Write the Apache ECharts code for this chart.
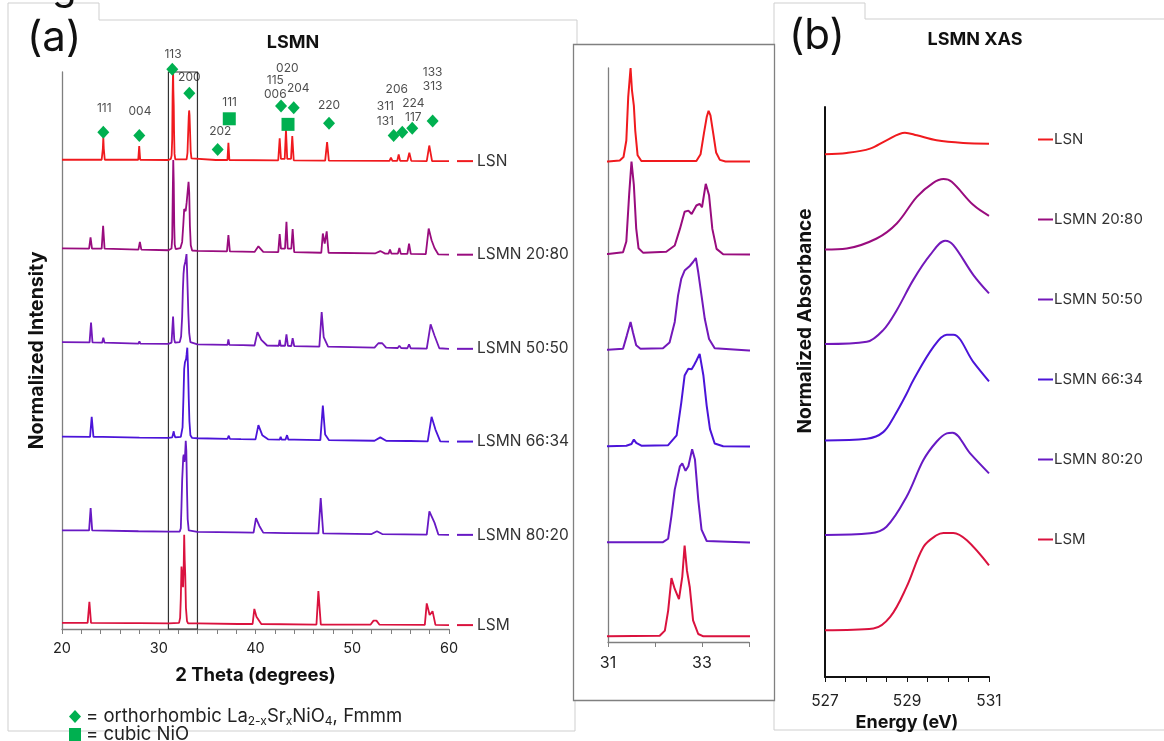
<!DOCTYPE html>
<html>
<head>
<meta charset="utf-8">
<script src="https://cdn.jsdelivr.net/npm/echarts@6/dist/echarts.min.js"></script>
<style>
html,body{margin:0;padding:0;background:#fff;}
#chart{width:1164px;height:741px;}
</style>
</head>
<body>
<div id="chart"></div>
<script>
// ---------- DATA ----------
const sampleNames = ['LSN', 'LSMN 20:80', 'LSMN 50:50', 'LSMN 66:34', 'LSMN 80:20', 'LSM'];
const sampleColors = ['#f01a1e', '#990c7e', '#7318ba', '#4b14d9', '#6719c4', '#da123e'];

// XRD vertical stacking offsets (normalized intensity units)
const xrdOffsets = [84.2, 68.0, 51.2, 34.3, 17.5, 1.0];
// XAS vertical stacking offsets
const xasOffsets = [91.7, 75.0, 58.4, 41.5, 24.9, 8.2];

// XRD patterns: [2theta, normalized intensity]
const xrdLSN = [
  [20,0.05],[24.1,0.05],[24.22,2.0],[24.27,4.1],[24.32,2.0],[24.42,0.05],
  [27.88,0.05],[27.98,2.5],[28.08,0.05],
  [31.0,0],[31.25,0.2],[31.33,0.8],[31.39,3.7],[31.43,11.3],[31.48,16.4],[31.51,12.5],[31.55,9.8],[31.58,5.4],[31.63,1.1],[31.71,0.1],
  [32.88,0.1],[32.97,1.3],[33.04,4.9],[33.10,7.8],[33.14,8.9],[33.18,8.1],[33.24,4.9],[33.30,1.6],[33.38,0.3],[33.5,0],
  [35.9,0],[36.0,0.3],[36.1,0],
  [37.1,0],[37.2,3.1],[37.3,0],
  [42.35,-0.05],[42.5,3.9],[42.63,0.2],[43.02,0.2],[43.15,5.4],[43.28,0.2],[43.67,0.2],[43.8,4.3],[43.95,-0.05],
  [47.2,-0.1],[47.4,3.2],[47.58,-0.1],
  [53.85,-0.15],[54.0,0.45],[54.15,-0.15],[54.65,-0.15],[54.8,1.0],[54.95,-0.15],[55.7,-0.15],[55.9,1.3],[56.1,-0.15],
  [57.7,-0.2],[57.96,2.6],[58.25,-0.2],[60,-0.2]
];
const xrd2080 = [
  [20,0.35],[22.8,0.3],[22.95,2.3],[23.1,0.3],[24.1,0.28],[24.25,4.4],[24.4,0.28],[27.9,0.1],[28.05,1.5],[28.2,0.1],
  [31.0,0],[31.32,0.3],[31.39,2.2],[31.45,10.4],[31.50,16.2],[31.55,12.1],[31.60,4.5],[31.65,1.0],[31.75,0.2],[32.24,0.4],[32.42,1.5],[32.53,4.4],[32.63,7.4],[32.71,7.6],[32.78,7.0],[32.88,8.5],[32.95,8.8],[33.0,8.2],[33.08,12.3],[33.15,10.3],[33.22,4.4],[33.31,0.9],[33.45,-0.05],[34.0,-0.1],
  [37.05,-0.2],[37.2,2.7],[37.35,-0.2],[39.9,-0.3],[40.3,0.7],[40.8,-0.3],
  [42.35,-0.35],[42.5,2.9],[42.63,0.3],[43.05,0.3],[43.2,5.1],[43.33,0.3],[43.7,0.3],[43.84,3.8],[44.0,-0.35],
  [46.8,-0.45],[46.96,3.0],[47.15,1.2],[47.36,3.4],[47.55,-0.45],
  [52.4,-0.55],[52.9,-0.15],[53.4,-0.6],[53.75,-0.6],[53.9,0.1],[54.05,-0.6],[54.72,-0.6],[54.87,0.4],[55.02,-0.65],[55.7,-0.65],[55.87,1.2],[56.05,-0.65],
  [57.6,-0.7],[57.9,3.9],[58.2,1.8],[58.5,0.4],[58.9,-0.75],[60,-0.8]
];
const xrd5050 = [
  [20,0.3],[22.85,0.25],[23.0,3.8],[23.15,0.25],[24.15,0.2],[24.27,1.1],[24.4,0.2],[27.9,0.05],[28.0,0.45],[28.1,0.05],
  [31.0,0],[31.32,0.2],[31.40,2.5],[31.48,4.9],[31.53,3.1],[31.60,0.8],[31.69,0.2],[32.17,0.3],[32.31,1.3],[32.42,4.9],[32.49,9.5],[32.56,12.5],[32.63,13.9],[32.74,14.7],[32.81,15.4],[32.87,16.1],[32.92,13.6],[32.99,9.5],[33.06,5.4],[33.15,1.9],[33.27,0.3],[34.0,-0.1],
  [37.1,-0.2],[37.2,0.8],[37.3,-0.2],[38.45,-0.25],[38.57,0.1],[38.7,-0.25],[39.9,-0.3],[40.2,2.1],[40.6,0.7],[41.2,-0.3],
  [42.4,-0.35],[42.5,0.7],[42.6,-0.35],[43.05,-0.35],[43.2,1.7],[43.35,-0.35],[43.7,-0.4],[43.84,1.0],[44.0,-0.4],
  [46.6,-0.5],[46.84,5.7],[47.05,1.2],[47.25,0.9],[47.5,-0.5],
  [52.3,-0.7],[52.7,0.1],[53.1,0.1],[53.5,-0.7],[54.7,-0.75],[54.87,-0.35],[55.05,-0.75],[55.7,-0.8],[55.87,-0.1],[56.05,-0.8],
  [57.7,-0.85],[58.1,3.5],[58.5,1.5],[59.0,-0.8],[60,-0.9]
];
const xrd6634 = [
  [20,0.25],[22.9,0.2],[23.07,3.8],[23.25,0.2],[24.2,0.2],[24.3,0.4],[24.4,0.2],[28.0,0.05],[28.1,0.3],[28.2,0.05],
  [31.0,0],[31.39,0.1],[31.50,0.4],[31.55,1.2],[31.60,0.6],[31.71,0.1],[32.28,0.2],[32.46,1.9],[32.56,7.7],[32.63,12.4],[32.71,13.6],[32.78,13.5],[32.83,14.2],[32.88,15.0],[32.95,16.2],[33.03,12.4],[33.10,7.1],[33.17,3.0],[33.27,0.5],[33.45,0],[34.0,-0.05],
  [37.1,-0.15],[37.24,0.4],[37.35,-0.15],[38.5,-0.2],[38.6,0.1],[38.7,-0.2],[40.0,-0.25],[40.3,2.3],[40.7,0.5],[41.3,-0.25],
  [42.5,-0.3],[42.6,0.2],[42.7,-0.3],[43.1,-0.3],[43.26,0.5],[43.4,-0.3],[43.7,-0.3],[43.84,0],[44.0,-0.3],
  [46.7,-0.4],[46.96,5.8],[47.2,0.6],[47.6,-0.4],
  [52.3,-0.5],[52.9,0.1],[53.5,-0.5],[55.75,-0.55],[55.87,-0.25],[56.0,-0.55],
  [57.8,-0.6],[58.2,3.8],[58.6,1.5],[59.1,-0.6],[60,-0.65]
];
const xrd8020 = [
  [20,0.2],[22.8,0.2],[22.96,4.2],[23.12,0.2],[27.9,0.05],[28.0,0.25],[28.1,0.05],
  [31.0,0],[32.17,0],[32.28,0.6],[32.35,4.6],[32.42,9.2],[32.53,13.3],[32.58,13.8],[32.65,12.5],[32.71,13.3],[32.79,16.3],[32.85,14.5],[32.92,7.5],[32.99,2.2],[33.10,0.2],[34.0,-0.05],
  [38.2,-0.15],[38.3,0.1],[38.4,-0.15],[39.8,-0.2],[40.05,2.4],[40.4,1.0],[40.8,-0.2],
  [43.15,-0.3],[43.26,0],[43.4,-0.3],
  [46.5,-0.35],[46.74,6.0],[47.0,-0.35],
  [52.0,-0.45],[52.55,0.05],[53.1,-0.45],
  [57.7,-0.55],[57.97,3.6],[58.5,1.6],[58.9,-0.55],[60,-0.6]
];
const xrdLSM = [
  [20,0.1],[22.65,0.1],[22.83,3.9],[23.0,0.1],[27.0,0.05],[27.2,0.35],[27.4,0.05],[27.7,0.05],[27.85,0.35],[28.0,0.05],
  [31.0,0],[32.10,0.1],[32.21,1.0],[32.28,4.5],[32.35,10.2],[32.42,8.3],[32.51,6.5],[32.58,10.4],[32.63,15.9],[32.68,11.5],[32.74,8.6],[32.81,2.8],[32.92,0.4],[33.03,0],[34.0,0],
  [38.2,-0.1],[38.3,0.2],[38.4,-0.1],[39.7,-0.1],[39.88,2.6],[40.1,1.2],[40.3,1.4],[40.6,-0.1],
  [46.3,-0.2],[46.5,5.8],[46.75,-0.2],
  [51.9,-0.2],[52.2,0.5],[52.35,0.3],[52.5,0.5],[52.8,-0.2],
  [57.5,-0.25],[57.7,3.6],[58.0,1.5],[58.3,2.2],[58.6,-0.25],[60,-0.3]
];

// XAS spectra: [energy eV, normalized absorbance]
const xasLSN  = [[527,0],[527.53,0.23],[528.1,1.0],[528.5,2.46],[528.95,3.8],[529.24,3.33],[529.72,2.46],[530.37,1.99],[531,1.87]];
const xas2080 = [[527,0],[527.53,0.18],[528.26,1.93],[528.75,4.56],[529.24,9.24],[529.64,11.7],[529.89,12.35],[530.09,11.88],[530.62,7.79],[531,5.91]];
const xas5050 = [[527,0],[528.02,0.4],[528.42,2.46],[528.75,5.96],[529.15,11.23],[529.56,15.6],[529.93,18.13],[530.13,17.37],[530.62,12.11],[531,8.89]];
const xas6634 = [[527,0],[528.02,0.3],[528.42,1.46],[528.7,4.39],[528.99,8.19],[529.15,10.53],[529.64,16.37],[529.97,18.54],[530.13,18.54],[530.62,13.74],[531,10.35]];
const xas8020 = [[527,0],[528.1,0.3],[528.5,1.46],[528.99,6.72],[529.4,13.16],[529.72,16.37],[529.97,17.84],[530.11,17.95],[530.54,14.33],[531,10.82]];
const xasLSM  = [[527,0],[528.18,0.3],[528.59,2.34],[528.99,7.6],[529.4,14.62],[529.72,16.67],[529.89,17.08],[530.13,17.08],[530.46,15.79],[531,11.4]];

// Phase markers above LSN pattern: [2theta, height]
const orthoMarkers = [[24.27,89.2],[27.99,88.6],[31.40,100.5],[33.16,96.2],[36.09,86.1],[42.64,93.9],[43.95,93.6],[47.6,90.8],[54.28,88.6],[55.17,89.2],[56.2,89.9],[58.31,91.2]];
const nioMarkers = [[37.29,91.6],[43.36,90.6]];
// Miller index labels: [2theta, height, text]
const hklLabels = [
  [24.37,93.5,'111'],[28.06,93.0,'004'],[31.47,103.1,'113'],[33.16,99.0,'200'],[36.36,89.4,'202'],
  [37.33,94.6,'111'],[42.05,95.9,'006'],[42.05,98.5,'115'],[43.29,100.7,'020'],[44.42,97.1,'204'],
  [47.6,94.0,'220'],[53.42,93.8,'311'],[53.42,91.2,'131'],[54.6,96.8,'206'],[56.31,94.4,'224'],
  [56.31,91.8,'117'],[58.31,100.0,'133'],[58.31,97.4,'313']
];
// zoom window drawn on main XRD (2theta range, height range)
const zoomWindowX = [31, 34];
const zoomWindowY = [0, 101.8];

const xrdSets = [xrdLSN, xrd2080, xrd5050, xrd6634, xrd8020, xrdLSM];
const xasSets = [xasLSN, xas2080, xas5050, xas6634, xas8020, xasLSM];

// ---------- CHART ----------
const FONT = 'Inter, "Open Sans", sans-serif';
const shift = (arr, off) => arr.map(p => [p[0], +(p[1] + off).toFixed(3)]);

const series = [];
sampleNames.forEach((name, i) => {
  const c = sampleColors[i];
  series.push({
    name, type: 'line', xAxisIndex: 0, yAxisIndex: 0,
    data: shift(xrdSets[i], xrdOffsets[i]),
    symbol: 'none', lineStyle: { width: 1.8, color: c }, itemStyle: { color: c },
    silent: true, z: 3,
    endLabel: {
      show: true, distance: 8,
      formatter: () => '{d| }{n|' + name + '}',
      rich: {
        d: { width: 16, height: 2, backgroundColor: c, fontSize: 1, lineHeight: 2 },
        n: { color: '#333', fontSize: 15.5, fontFamily: FONT, padding: [0, 0, 0, 4] }
      }
    }
  });
  series.push({
    name, type: 'line', xAxisIndex: 1, yAxisIndex: 1,
    data: shift(xrdSets[i], xrdOffsets[i]),
    symbol: 'none', lineStyle: { width: 2, color: c }, itemStyle: { color: c },
    silent: true, clip: true
  });
  series.push({
    name, type: 'line', xAxisIndex: 2, yAxisIndex: 2,
    data: shift(xasSets[i], xasOffsets[i]),
    symbol: 'none', smooth: 0.35, lineStyle: { width: 2, color: c }, itemStyle: { color: c },
    silent: true
  });
});

const GREEN = '#00b050';
series.push({
  name: 'orthorhombic', type: 'scatter', xAxisIndex: 0, yAxisIndex: 0,
  data: orthoMarkers, symbol: 'diamond', symbolSize: [12, 13],
  itemStyle: { color: GREEN, opacity: 1 }, clip: false, z: 6, silent: true,
  markArea: {
    silent: true,
    itemStyle: { color: 'rgba(0,0,0,0)', borderColor: '#333', borderWidth: 1.2 },
    data: [[{ coord: [zoomWindowX[0], zoomWindowY[0]] }, { coord: [zoomWindowX[1], zoomWindowY[1]] }]]
  }
});
series.push({
  name: 'NiO', type: 'scatter', xAxisIndex: 0, yAxisIndex: 0,
  data: nioMarkers, symbol: 'rect', symbolSize: 13,
  itemStyle: { color: GREEN, opacity: 1 }, clip: false, z: 6, silent: true
});
series.push({
  name: 'hkl', type: 'scatter', xAxisIndex: 0, yAxisIndex: 0,
  data: hklLabels.map(h => ({ name: h[2], value: [h[0], h[1]] })),
  symbolSize: 0, clip: false, silent: true, z: 7,
  label: { show: true, position: 'inside', formatter: '{b}', fontSize: 12, color: '#222', fontFamily: FONT }
});

const axisGray = '#7f7f7f';
const markerLegend = (name, top, text) => ({
  data: [name], orient: 'vertical', left: 64, top, itemWidth: 12, itemHeight: 13, selectedMode: false,
  formatter: () => text,
  textStyle: {
    fontSize: 18.5, color: '#222', fontFamily: FONT,
    rich: { s: { fontSize: 12, color: '#222', verticalAlign: 'bottom', padding: [9, 0, 0, 0], fontFamily: FONT } }
  }
});

const option = {
  animation: false,
  textStyle: { fontFamily: FONT },
  grid: [
    { left: 62, top: 72, width: 387, height: 557 },
    { left: 608, top: 68, width: 141, height: 574 },
    { left: 825, top: 107, width: 164, height: 570 }
  ],
  xAxis: [
    {
      gridIndex: 0, type: 'value', min: 20, max: 60, interval: 2,
      name: '2 Theta (degrees)', nameLocation: 'middle', nameGap: 37,
      nameTextStyle: { fontSize: 18.5, fontWeight: 'bold', color: '#111' },
      axisLine: { lineStyle: { color: axisGray, width: 1.3 } },
      axisTick: { show: true, length: 5, lineStyle: { color: axisGray } },
      axisLabel: { fontSize: 14.5, color: '#222', margin: 12, formatter: v => (v % 10 === 0 ? String(v) : '') },
      splitLine: { show: false }
    },
    {
      gridIndex: 1, type: 'value', min: 31, max: 34, interval: 1,
      axisLine: { lineStyle: { color: axisGray, width: 1.3 } },
      axisTick: { show: true, length: 5, lineStyle: { color: axisGray } },
      axisLabel: { fontSize: 16, color: '#222', margin: 13, formatter: v => (v === 31 || v === 33 ? String(v) : '') },
      splitLine: { show: false }
    },
    {
      gridIndex: 2, type: 'value', min: 527, max: 531, interval: 0.5,
      name: 'Energy (eV)', nameLocation: 'middle', nameGap: 30,
      nameTextStyle: { fontSize: 18, fontWeight: 'bold', color: '#111' },
      axisLine: { lineStyle: { color: '#111', width: 2 } },
      axisTick: { show: true, length: 5, lineStyle: { color: '#111' } },
      axisLabel: { fontSize: 15.5, color: '#222', margin: 16, formatter: v => (v === 527 || v === 529 || v === 531 ? String(v) : '') },
      splitLine: { show: false }
    }
  ],
  yAxis: [
    {
      gridIndex: 0, type: 'value', min: 0, max: 100,
      name: 'Normalized Intensity', nameLocation: 'middle', nameGap: 15, nameRotate: 90,
      nameTextStyle: { fontSize: 19.5, fontWeight: 'bold', color: '#111' },
      axisLine: { show: true, lineStyle: { color: axisGray, width: 1.3 } },
      axisTick: { show: false }, axisLabel: { show: false }, splitLine: { show: false }
    },
    {
      gridIndex: 1, type: 'value', min: 0, max: 100.6,
      axisLine: { show: true, lineStyle: { color: axisGray, width: 1.3 } },
      axisTick: { show: false }, axisLabel: { show: false }, splitLine: { show: false }
    },
    {
      gridIndex: 2, type: 'value', min: 0, max: 100,
      axisLine: { show: true, lineStyle: { color: '#111', width: 2 } },
      axisTick: { show: false }, axisLabel: { show: false }, splitLine: { show: false }
    }
  ],
  legend: [
    {
      data: sampleNames, orient: 'vertical', left: 1033, top: 127, itemGap: 65,
      icon: 'rect', itemWidth: 15, itemHeight: 2, selectedMode: false,
      textStyle: { fontSize: 15, color: '#333', fontFamily: FONT, padding: [0, 0, 0, -4] }
    },
    markerLegend('orthorhombic', 702, '= orthorhombic La{s|2-x}Sr{s|x}NiO{s|4}, Fmmm'),
    markerLegend('NiO', 720, '= cubic NiO')
  ],
  graphic: [
    { type: 'polyline', silent: true, z: -1, shape: { points: [[577,44],[577,20],[99,20],[99,3],[8,3],[8,731],[575,731],[575,700]] }, style: { stroke: '#cfcfcf', fill: null, lineWidth: 1 } },
    { type: 'polyline', silent: true, z: -1, shape: { points: [[774,44],[774,3],[865,3],[865,19],[1164,19]] }, style: { stroke: '#cfcfcf', fill: null, lineWidth: 1 } },
    { type: 'polyline', silent: true, z: -1, shape: { points: [[774,700],[774,730],[1164,730]] }, style: { stroke: '#cfcfcf', fill: null, lineWidth: 1 } },
    { type: 'rect', silent: true, z: -1, shape: { x: 573.5, y: 44.5, width: 201, height: 656 }, style: { stroke: '#808080', fill: '#fff', lineWidth: 1.3 } },
    { type: 'text', silent: true, x: 52, y: -33, style: { text: 'g', font: '40px ' + FONT, fill: '#111' } },
    { type: 'text', silent: true, x: 27, y: 17, style: { text: '(a)', font: '42px ' + FONT, fill: '#111' } },
    { type: 'text', silent: true, x: 789, y: 15, style: { text: '(b)', font: '42px ' + FONT, fill: '#111' } },
    { type: 'text', silent: true, x: 293, y: 43, style: { text: 'LSMN', font: 'bold 18px ' + FONT, fill: '#111', align: 'center', verticalAlign: 'middle' } },
    { type: 'text', silent: true, x: 975, y: 40, style: { text: 'LSMN XAS', font: 'bold 18px ' + FONT, fill: '#111', align: 'center', verticalAlign: 'middle' } },
    { type: 'text', silent: true, x: 805, y: 321, rotation: Math.PI / 2, style: { text: 'Normalized Absorbance', font: 'bold 19px ' + FONT, fill: '#111', align: 'center', verticalAlign: 'middle' } }
  ],
  series
};

const chart = echarts.init(document.getElementById('chart'), null, { renderer: 'canvas' });
chart.setOption(option);
</script>
</body>
</html>
